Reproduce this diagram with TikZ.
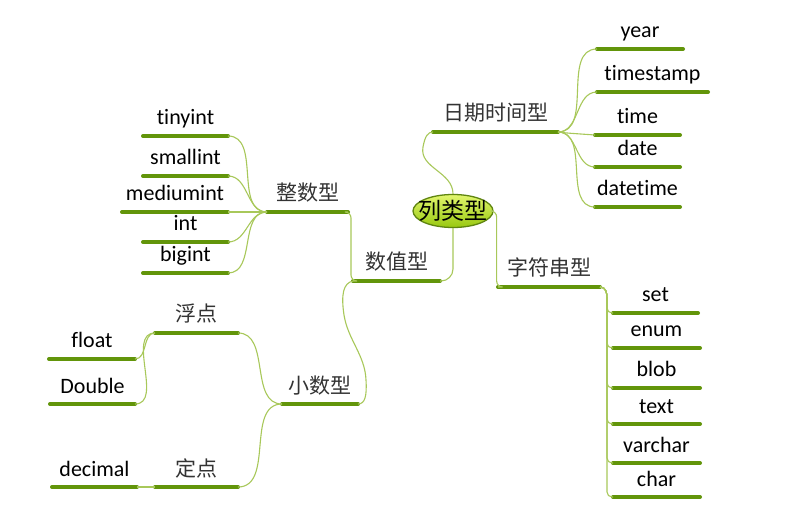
\documentclass[tikz,border=0pt]{standalone}
\usepackage{fontspec}
\setmainfont{Carlito}[Ligatures={NoCommon}]
\newfontfamily\cjk{Noto Sans CJK SC}
\usetikzlibrary{shapes.geometric}
\definecolor{ulgreen}{HTML}{62950A}
\definecolor{conngreen}{HTML}{A8C85A}
\definecolor{elltop}{HTML}{E2F66E}
\definecolor{ellbot}{HTML}{98C810}
\definecolor{ellborder}{HTML}{5F8510}
\tikzset{
  ul/.style={line width=4pt, ulgreen, line cap=round},
  conn/.style={line width=1.1pt, conngreen},
  lat/.style={font=\fontsize{22}{24}\selectfont, text=black, inner sep=0pt},
  zh/.style={font=\cjk\fontsize{21}{24}\selectfont, text=black!80, inner sep=0pt},
}
\newcommand\mmi[6]{%
  \coordinate (#1L) at (#2,#4);
  \coordinate (#1R) at (#3,#4);
  \draw[ul] (#1L) -- (#1R);
  \node[anchor=base, #6] (#1) at ({(#2+#3)/2},{#4-11}) {#5};
}
\begin{document}
\begin{tikzpicture}[x=1pt,y=-1pt]
\useasboundingbox (0,0) rectangle (792,518);
\fill[white] (0,0) rectangle (792,518);

% centre
\node[ellipse, draw=ellborder, line width=1.3pt, top color=elltop, bottom color=ellbot,
      minimum width=80pt, minimum height=33pt, inner sep=0pt,
      font=\cjk\fontsize{23}{25}\selectfont] (ell) at (453,211) {\makebox[0pt]{列类型}};

% date/time branch
\mmi{dt}{433}{558}{132}{日期时间型}{zh}
\mmi{year}{597}{683}{49}{year}{lat}
\mmi{ts}{597}{708}{92}{timestamp}{lat}
\mmi{time}{595}{680}{135}{time}{lat}
\mmi{date}{595}{680}{167}{date}{lat}
\mmi{dtime}{595}{680}{207}{datetime}{lat}

% integer branch
\mmi{int}{267}{348}{212}{整数型}{zh}
\mmi{tiny}{143}{228}{136}{tinyint}{lat}
\mmi{small}{143}{228}{176}{smallint}{lat}
\mmi{medium}{122}{228}{212}{mediumint}{lat}
\mmi{intc}{143}{228}{242}{int}{lat}
\mmi{big}{143}{228}{273}{bigint}{lat}

% numeric
\mmi{num}{353}{440}{281}{数值型}{zh}
\mmi{dec}{282}{358}{404}{小数型}{zh}
\mmi{fp}{155}{238}{333}{浮点}{zh}
\mmi{fx}{155}{238}{487}{定点}{zh}
\mmi{float}{49}{135}{359}{float}{lat}
\mmi{double}{50}{135}{404}{Double}{lat}
\mmi{decimal}{52}{137}{487}{decimal}{lat}

% string branch
\mmi{str}{498}{600}{287}{字符串型}{zh}
\mmi{set}{613}{698}{313}{set}{lat}
\mmi{enum}{613}{700}{348}{enum}{lat}
\mmi{blob}{613}{700}{388}{blob}{lat}
\mmi{text}{613}{700}{424}{text}{lat}
\mmi{varchar}{613}{700}{463}{varchar}{lat}
\mmi{char}{613}{700}{497}{char}{lat}

% connectors
\begin{scope}[conn]
\draw (ell.north) .. controls +(0,-22) and (419,168) .. (423,147) .. controls (425,136) and (428,132) .. (dtL);
\foreach \c in {year,ts,date,dtime} \draw (dtR) to[out=0,in=180] (\c L);
\draw (dtR) .. controls (566,133) .. (timeL);

\foreach \c in {tiny,small,medium,intc,big} \draw (intL) to[out=180,in=0] (\c R);
\draw[rounded corners=6pt] (intR) -- ++(3,0) |- (numL);
\draw[rounded corners=12pt] (ell.south) |- (numR);
\draw (numL) .. controls (343,283) and (341,295) .. (344,315) .. controls (348,340) and (365,355) .. (366,380) .. controls (367,396) and (365,404) .. (decR);

\draw (decL) to[out=180,in=0] (fpR);
\draw (decL) to[out=180,in=0] (fxR);
\draw (fpL) to[out=180,in=0] (floatR);
\draw (fpL) to[out=180,in=0] (doubleR);
\draw (fxL) -- (decimalR);

\draw[rounded corners=6pt] (ell.east) -- ++(3,0) |- (strL);
\foreach \c in {set,enum,blob,text,varchar,char}
  \draw[rounded corners=5pt] (strR) .. controls (606,287) and (607,293) .. (607,303) |- (\c L);
\end{scope}
\end{tikzpicture}
\end{document}
